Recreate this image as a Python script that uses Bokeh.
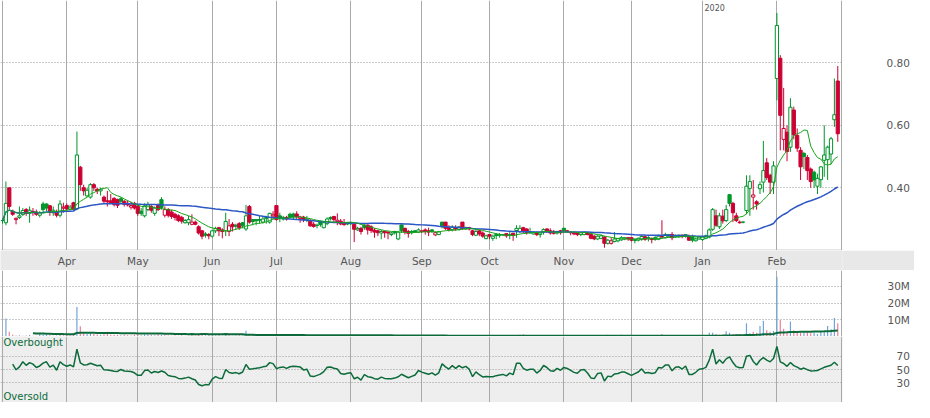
import numpy as np
import pandas as pd
from bokeh.plotting import figure
from bokeh.layouts import column
from bokeh.models import Range1d, FixedTicker, Grid, ColumnDataSource, Label, Span
from bokeh.embed import file_html
from bokeh.resources import INLINE
from bokeh.core.properties import value

# ---------------- data: daily candles (open, high, low, close) per month ----------------
mar_2019 = [
    (0.295, 0.300, 0.285, 0.295), (0.288, 0.420, 0.280, 0.350), (0.400, 0.400, 0.330, 0.340),
    (0.325, 0.330, 0.310, 0.315), (0.298, 0.305, 0.283, 0.302), (0.305, 0.340, 0.300, 0.310),
    (0.314, 0.335, 0.310, 0.327), (0.330, 0.335, 0.310, 0.318), (0.318, 0.340, 0.288, 0.328),
    (0.322, 0.335, 0.310, 0.324), (0.322, 0.330, 0.310, 0.315), (0.312, 0.325, 0.305, 0.320),
    (0.348, 0.355, 0.320, 0.330), (0.348, 0.350, 0.325, 0.335), (0.342, 0.345, 0.310, 0.321),
    (0.320, 0.340, 0.310, 0.328), (0.324, 0.330, 0.305, 0.312), (0.312, 0.360, 0.305, 0.348),
    (0.335, 0.352, 0.320, 0.338),
]
apr_2019 = [
    (0.343, 0.350, 0.328, 0.332), (0.332, 0.345, 0.328, 0.338), (0.352, 0.355, 0.328, 0.331),
    (0.332, 0.580, 0.328, 0.505), (0.466, 0.470, 0.390, 0.410), (0.400, 0.410, 0.375, 0.390),
    (0.374, 0.400, 0.370, 0.392), (0.370, 0.415, 0.365, 0.410), (0.410, 0.415, 0.390, 0.400),
    (0.395, 0.400, 0.380, 0.390), (0.390, 0.400, 0.375, 0.395), (0.370, 0.375, 0.350, 0.357),
    (0.358, 0.390, 0.340, 0.355), (0.358, 0.380, 0.348, 0.352), (0.366, 0.370, 0.340, 0.346),
    (0.362, 0.365, 0.335, 0.344), (0.365, 0.370, 0.350, 0.357), (0.357, 0.360, 0.340, 0.347),
    (0.350, 0.360, 0.340, 0.345), (0.338, 0.355, 0.330, 0.343), (0.350, 0.355, 0.330, 0.335),
]
may_2019 = [
    (0.340, 0.345, 0.310, 0.318), (0.325, 0.335, 0.310, 0.318), (0.310, 0.350, 0.305, 0.342),
    (0.330, 0.355, 0.325, 0.345), (0.340, 0.345, 0.320, 0.328), (0.318, 0.340, 0.310, 0.335),
    (0.343, 0.350, 0.325, 0.330), (0.362, 0.370, 0.330, 0.337), (0.312, 0.340, 0.305, 0.330),
    (0.330, 0.335, 0.305, 0.312), (0.322, 0.330, 0.300, 0.308), (0.315, 0.320, 0.295, 0.305),
    (0.310, 0.315, 0.290, 0.295), (0.305, 0.310, 0.285, 0.293), (0.288, 0.300, 0.285, 0.295),
    (0.288, 0.310, 0.280, 0.298), (0.283, 0.315, 0.280, 0.290), (0.290, 0.295, 0.280, 0.283),
    (0.275, 0.280, 0.250, 0.255), (0.262, 0.265, 0.235, 0.245), (0.252, 0.258, 0.240, 0.248),
    (0.250, 0.255, 0.235, 0.246),
]
jun_2019 = [
    (0.245, 0.265, 0.240, 0.262), (0.262, 0.275, 0.255, 0.270), (0.272, 0.275, 0.245, 0.262),
    (0.265, 0.270, 0.238, 0.260), (0.262, 0.320, 0.245, 0.292), (0.260, 0.300, 0.245, 0.278),
    (0.283, 0.290, 0.260, 0.275), (0.280, 0.285, 0.265, 0.277), (0.285, 0.290, 0.265, 0.272),
    (0.288, 0.290, 0.270, 0.278), (0.268, 0.345, 0.262, 0.310), (0.340, 0.345, 0.285, 0.290),
    (0.298, 0.300, 0.280, 0.292), (0.298, 0.300, 0.280, 0.294), (0.298, 0.310, 0.285, 0.296),
    (0.290, 0.310, 0.285, 0.300), (0.305, 0.310, 0.285, 0.302), (0.290, 0.320, 0.285, 0.318),
    (0.310, 0.325, 0.300, 0.315),
]
jul_2019 = [
    (0.343, 0.345, 0.295, 0.298), (0.310, 0.320, 0.290, 0.303), (0.300, 0.310, 0.295, 0.305),
    (0.305, 0.310, 0.295, 0.300), (0.315, 0.320, 0.300, 0.306), (0.316, 0.320, 0.300, 0.308),
    (0.316, 0.325, 0.300, 0.307), (0.302, 0.310, 0.288, 0.306), (0.306, 0.310, 0.290, 0.298),
    (0.297, 0.310, 0.290, 0.300), (0.293, 0.300, 0.275, 0.278), (0.283, 0.290, 0.272, 0.276),
    (0.280, 0.285, 0.270, 0.279), (0.290, 0.295, 0.275, 0.282), (0.272, 0.292, 0.270, 0.288),
    (0.285, 0.305, 0.280, 0.300), (0.305, 0.308, 0.295, 0.301), (0.308, 0.310, 0.290, 0.298),
    (0.292, 0.318, 0.280, 0.296), (0.293, 0.300, 0.280, 0.284), (0.285, 0.300, 0.278, 0.282),
    (0.288, 0.290, 0.280, 0.284),
]
aug_2019 = [
    (0.288, 0.290, 0.280, 0.285), (0.283, 0.287, 0.226, 0.267), (0.265, 0.275, 0.262, 0.270),
    (0.270, 0.275, 0.250, 0.260), (0.280, 0.285, 0.265, 0.272), (0.280, 0.283, 0.250, 0.265),
    (0.275, 0.280, 0.255, 0.263), (0.264, 0.270, 0.240, 0.258), (0.262, 0.265, 0.245, 0.256),
    (0.255, 0.265, 0.235, 0.260), (0.260, 0.262, 0.240, 0.256), (0.258, 0.260, 0.235, 0.255),
    (0.250, 0.258, 0.245, 0.255), (0.260, 0.262, 0.250, 0.256), (0.236, 0.262, 0.232, 0.258),
    (0.281, 0.283, 0.255, 0.262), (0.270, 0.272, 0.250, 0.258), (0.260, 0.265, 0.240, 0.254),
    (0.260, 0.265, 0.250, 0.256), (0.262, 0.265, 0.255, 0.258), (0.258, 0.270, 0.255, 0.265),
]
sep_2019 = [
    (0.260, 0.265, 0.255, 0.262), (0.265, 0.270, 0.250, 0.260), (0.262, 0.272, 0.245, 0.258),
    (0.265, 0.268, 0.255, 0.260), (0.249, 0.260, 0.245, 0.256), (0.250, 0.262, 0.248, 0.259),
    (0.290, 0.290, 0.270, 0.275), (0.290, 0.290, 0.265, 0.270), (0.272, 0.280, 0.260, 0.266),
    (0.266, 0.280, 0.260, 0.273), (0.272, 0.280, 0.262, 0.268), (0.267, 0.278, 0.262, 0.274),
    (0.290, 0.290, 0.265, 0.270), (0.268, 0.275, 0.265, 0.273), (0.272, 0.275, 0.263, 0.268),
    (0.262, 0.265, 0.245, 0.250), (0.248, 0.270, 0.245, 0.260), (0.262, 0.265, 0.245, 0.252),
    (0.255, 0.260, 0.240, 0.245), (0.237, 0.250, 0.235, 0.246),
]
oct_2019 = [
    (0.250, 0.252, 0.235, 0.245), (0.238, 0.250, 0.230, 0.245), (0.250, 0.255, 0.235, 0.247),
    (0.250, 0.255, 0.240, 0.248), (0.250, 0.252, 0.245, 0.249), (0.253, 0.255, 0.240, 0.246),
    (0.248, 0.260, 0.235, 0.250), (0.254, 0.256, 0.230, 0.247), (0.263, 0.280, 0.240, 0.270),
    (0.260, 0.280, 0.255, 0.270), (0.272, 0.275, 0.255, 0.260), (0.268, 0.270, 0.250, 0.256),
    (0.258, 0.272, 0.252, 0.258), (0.252, 0.260, 0.250, 0.258), (0.256, 0.260, 0.245, 0.250),
    (0.250, 0.258, 0.240, 0.255), (0.258, 0.270, 0.250, 0.266), (0.268, 0.270, 0.255, 0.262),
    (0.262, 0.270, 0.250, 0.255), (0.260, 0.265, 0.250, 0.254), (0.255, 0.262, 0.250, 0.260),
    (0.262, 0.265, 0.250, 0.256),
]
nov_2019 = [
    (0.270, 0.272, 0.258, 0.262), (0.262, 0.265, 0.255, 0.260), (0.258, 0.260, 0.248, 0.256),
    (0.256, 0.258, 0.248, 0.252), (0.256, 0.258, 0.245, 0.250), (0.250, 0.258, 0.245, 0.256),
    (0.250, 0.260, 0.248, 0.257), (0.256, 0.258, 0.248, 0.250), (0.250, 0.255, 0.235, 0.238),
    (0.245, 0.248, 0.232, 0.236), (0.236, 0.248, 0.232, 0.245), (0.238, 0.250, 0.235, 0.246),
    (0.242, 0.245, 0.208, 0.222), (0.222, 0.236, 0.218, 0.232), (0.222, 0.240, 0.218, 0.230),
    (0.228, 0.258, 0.225, 0.236), (0.230, 0.240, 0.225, 0.237), (0.233, 0.245, 0.230, 0.240),
    (0.236, 0.242, 0.232, 0.240), (0.240, 0.242, 0.230, 0.236),
]
dec_2019 = [
    (0.240, 0.242, 0.228, 0.232), (0.231, 0.238, 0.222, 0.235), (0.232, 0.240, 0.228, 0.238),
    (0.235, 0.248, 0.230, 0.244), (0.243, 0.248, 0.230, 0.235), (0.240, 0.245, 0.228, 0.236),
    (0.238, 0.240, 0.222, 0.234), (0.240, 0.245, 0.230, 0.235), (0.235, 0.250, 0.232, 0.245),
    (0.242, 0.296, 0.238, 0.244), (0.240, 0.256, 0.238, 0.250), (0.243, 0.252, 0.240, 0.250),
    (0.250, 0.258, 0.232, 0.240), (0.243, 0.250, 0.240, 0.247), (0.243, 0.250, 0.240, 0.248),
    (0.248, 0.250, 0.238, 0.244), (0.244, 0.252, 0.240, 0.250), (0.243, 0.250, 0.230, 0.232),
    (0.242, 0.250, 0.225, 0.232), (0.230, 0.240, 0.228, 0.236), (0.236, 0.245, 0.233, 0.242),
]
jan_2020 = [
    (0.234, 0.245, 0.230, 0.243), (0.238, 0.250, 0.235, 0.246), (0.242, 0.270, 0.238, 0.265),
    (0.267, 0.335, 0.262, 0.330), (0.310, 0.330, 0.275, 0.280), (0.275, 0.320, 0.268, 0.310),
    (0.309, 0.330, 0.285, 0.294), (0.295, 0.345, 0.290, 0.330), (0.378, 0.380, 0.340, 0.350),
    (0.350, 0.355, 0.290, 0.320), (0.310, 0.320, 0.290, 0.295), (0.290, 0.295, 0.285, 0.288),
    (0.290, 0.292, 0.286, 0.290), (0.327, 0.440, 0.315, 0.405), (0.398, 0.440, 0.310, 0.420),
    (0.370, 0.425, 0.330, 0.377), (0.355, 0.360, 0.330, 0.348), (0.397, 0.420, 0.380, 0.410),
    (0.418, 0.550, 0.385, 0.455), (0.480, 0.495, 0.425, 0.433), (0.440, 0.445, 0.380, 0.418),
    (0.418, 0.485, 0.380, 0.470),
]
feb_2020 = [
    (0.750, 0.960, 0.680, 0.920), (0.815, 0.825, 0.520, 0.632), (0.555, 0.720, 0.520, 0.590),
    (0.578, 0.600, 0.485, 0.516), (0.530, 0.687, 0.515, 0.658), (0.649, 0.660, 0.555, 0.570),
    (0.568, 0.590, 0.515, 0.527), (0.520, 0.530, 0.425, 0.467), (0.510, 0.515, 0.460, 0.500),
    (0.497, 0.505, 0.425, 0.455), (0.460, 0.465, 0.400, 0.420), (0.450, 0.455, 0.400, 0.425),
    (0.405, 0.445, 0.380, 0.430), (0.426, 0.470, 0.400, 0.467), (0.488, 0.600, 0.435, 0.505),
    (0.490, 0.535, 0.425, 0.530), (0.508, 0.563, 0.475, 0.557), (0.618, 0.750, 0.595, 0.634),
    (0.742, 0.790, 0.547, 0.573),
]

# daily volume, millions of shares
vol_mar_2019 = [0.8, 10.8, 2.8, 1.0, 0.6, 0.8, 0.5, 0.6, 0.9, 0.5, 0.4, 1.6, 1.2, 0.9, 0.7, 0.5, 0.6, 1.4, 0.8]
vol_apr_2019 = [1.0, 0.8, 1.2, 17.6, 6.2, 2.0, 1.5, 2.2, 1.5, 1.2, 1.0, 1.3, 2.8, 1.0, 1.1, 1.0, 0.8, 1.0, 0.7, 0.6, 1.0]
vol_may_2019 = [1.0, 0.8, 1.2, 1.0, 0.9, 0.7, 1.5, 1.0, 0.8, 0.6, 0.5, 0.6, 0.5, 0.7, 0.4, 0.5, 0.8, 0.5, 0.9, 1.0, 0.7, 0.8]
vol_jun_2019 = [0.8, 0.6, 0.7, 0.5, 1.9, 0.8, 0.5, 0.6, 0.7, 0.6, 3.4, 1.0, 1.0, 0.6, 0.5, 0.8, 0.6, 0.9, 1.2]
vol_jul_2019 = [1.2, 0.8, 0.5, 0.4, 0.8, 0.6, 0.7, 0.5, 0.6, 0.4, 0.7, 0.5, 0.4, 0.6, 0.8, 0.9, 0.6, 0.7, 0.5, 0.6, 0.5, 0.4]
vol_aug_2019 = [0.5, 1.2, 0.4, 0.5, 0.4, 0.6, 0.5, 0.4, 0.3, 0.4, 0.3, 0.3, 0.3, 0.5, 0.6, 0.4, 1.0, 0.3, 0.4, 0.3, 0.4]
vol_sep_2019 = [0.3, 0.3, 0.4, 0.3, 0.4, 0.3, 1.0, 0.8, 0.4, 0.3, 0.3, 0.4, 0.9, 0.3, 0.4, 0.3, 0.3, 0.4, 0.3, 0.4]
vol_oct_2019 = [0.3, 0.3, 0.3, 0.3, 0.2, 0.3, 0.3, 0.4, 0.9, 1.0, 1.4, 0.4, 0.3, 0.3, 0.3, 0.3, 0.4, 0.3, 0.3, 0.3, 0.3, 0.3]
vol_nov_2019 = [0.4, 0.3, 0.3, 0.3, 0.3, 0.3, 0.3, 0.3, 0.5, 0.4, 0.3, 0.3, 0.6, 1.0, 0.3, 0.3, 0.4, 1.0, 0.3, 0.3]
vol_dec_2019 = [0.3, 0.3, 0.3, 0.4, 0.3, 0.3, 0.3, 0.3, 0.4, 1.5, 0.4, 0.3, 0.3, 0.3, 0.3, 0.3, 0.3, 0.4, 0.3, 0.3, 0.4]
vol_jan_2020 = [0.8, 0.9, 2.3, 2.3, 1.5, 1.0, 1.2, 3.2, 2.3, 1.5, 1.5, 1.5, 0.8, 8.0, 2.0, 2.8, 2.2, 6.3, 9.5, 3.8, 2.8, 3.3]
vol_feb_2020 = [35.6, 9.9, 4.7, 2.8, 9.0, 3.8, 2.8, 2.3, 2.2, 2.5, 2.0, 2.3, 1.5, 2.8, 2.8, 6.3, 4.3, 11.0, 8.0]

month_labels = ["Apr", "May", "Jun", "Jul", "Aug", "Sep", "Oct", "Nov", "Dec", "Jan", "Feb"]
year_label = "2020"
price_ticks = [0.40, 0.60, 0.80]
price_tick_labels = ["0.40", "0.60", "0.80"]
vol_ticks = [10, 20, 30]
vol_tick_labels = ["10M", "20M", "30M"]
rsi_ticks = [30, 50, 70]
rsi_tick_labels = ["30", "50", "70"]
sma_short, sma_long, rsi_period = 10, 50, 14

# ---------------- assemble ----------------
months = [mar_2019, apr_2019, may_2019, jun_2019, jul_2019, aug_2019,
          sep_2019, oct_2019, nov_2019, dec_2019, jan_2020, feb_2020]
vols = [vol_mar_2019, vol_apr_2019, vol_may_2019, vol_jun_2019, vol_jul_2019, vol_aug_2019,
        vol_sep_2019, vol_oct_2019, vol_nov_2019, vol_dec_2019, vol_jan_2020, vol_feb_2020]
rows = [r for m in months for r in m]
o, h, l, c = (np.array(a) for a in zip(*rows))
volume = np.array([v for m in vols for v in m])
idx = np.arange(len(c))
month_starts = np.cumsum([0] + [len(m) for m in months])[:-1]

prev_c = np.r_[c[0], c[:-1]]
up = c >= prev_c
GREEN, RED = "#00962a", "#cc0033"
col = np.where(up, GREEN, RED)
fill = np.where(c > o, "white", col)
vcol = np.where(up, "#6fa4d8", "#ee7c98")

cs = pd.Series(c)
ma_s = cs.rolling(sma_short, min_periods=1).mean()
ma_l = cs.rolling(sma_long, min_periods=1).mean()
vol_ma = pd.Series(volume).rolling(sma_long, min_periods=10).mean()
d = cs.diff()
ag = d.clip(lower=0).ewm(alpha=1 / rsi_period, adjust=True, min_periods=3).mean()
al = (-d.clip(upper=0)).ewm(alpha=1 / rsi_period, adjust=True, min_periods=3).mean()
rsi = 100 * ag / (ag + al)

x_edge = float(idx[-1] + 1.1)
xr = Range1d(float(idx[0]) - 0.6, x_edge + 0.3)
grid_ticks = [float(v) for v in month_starts] + [x_edge]

W, RB = 914, 72
FONT = "DejaVu Sans"
LABEL_COL = "#555555"


def base(height, y_range, yloc="right", **kw):
    f = figure(width=W, height=height, x_range=xr, y_range=y_range, output_backend="svg",
               toolbar_location=None, x_axis_location=None, y_axis_location=yloc,
               min_border_left=0, min_border_right=RB, min_border_top=0, min_border_bottom=0,
               outline_line_color=None, **kw)
    f.grid.grid_line_color = None
    return f


def style_axis(f, ticks, labels, standoff):
    ax = f.yaxis[0]
    ax.ticker = FixedTicker(ticks=ticks)
    ax.major_label_overrides = dict(zip(ticks, labels))
    ax.axis_line_color = None
    ax.major_tick_line_color = None
    ax.minor_tick_line_color = None
    ax.major_tick_out = 0
    ax.major_tick_in = 0
    ax.major_label_standoff = standoff
    ax.major_label_text_font = FONT
    ax.major_label_text_font_size = "10.5px"
    ax.major_label_text_color = LABEL_COL


def add_grids(f, yticks):
    f.add_layout(Grid(dimension=0, ticker=FixedTicker(ticks=grid_ticks),
                      grid_line_color="#aaaaaa", grid_line_width=1))
    f.add_layout(Grid(dimension=1, ticker=FixedTicker(ticks=yticks),
                      grid_line_color="#999999", grid_line_dash="1 2", grid_line_width=1))


# ---- price panel ----
p = base(250, Range1d(0.199, 1.0))
add_grids(p, price_ticks)
style_axis(p, price_ticks, price_tick_labels, 44)
p.add_layout(Span(location=0.2, dimension="width", line_color="#aaaaaa", line_width=1))
src = ColumnDataSource(dict(x=idx, top=np.maximum(o, c), bottom=np.minimum(o, c),
                            high=h, low=l, col=col, fill=fill))
p.segment(x0="x", y0="low", x1="x", y1="high", line_color="col", line_width=1, source=src)
p.vbar(x="x", width=0.95, top="top", bottom="bottom", fill_color="fill",
       line_color="col", line_width=1, source=src)
p.line(idx, ma_l, line_color="#2a56c6", line_width=1.5)
p.line(idx, ma_s, line_color="#1aa31a", line_width=1)
p.add_layout(Label(x=float(month_starts[10]), y=0.99, text=year_label, x_offset=2,
                   text_baseline="top", text_font=FONT, text_font_size="8px",
                   text_color=LABEL_COL))

# ---- month band ----
band = base(20, Range1d(0, 1), yloc=None, background_fill_color="#e8e8e8",
            border_fill_color="#e8e8e8")
band.text(x=[float(v) for v in month_starts[1:]], y=[0.5] * len(month_labels), text=month_labels,
          text_align="center", text_baseline="middle", text_font=value(FONT),
          text_font_size="10.5px", text_color=LABEL_COL)

# ---- volume panel ----
v = base(66, Range1d(0, 39.5))
add_grids(v, vol_ticks)
style_axis(v, vol_ticks, vol_tick_labels, 45)
v.vbar(x=idx, top=volume, width=0.35, fill_color=vcol, line_color=None)
v.line(idx, vol_ma, line_color="#0d6b3b", line_width=2)

# ---- RSI panel ----
r = base(66, Range1d(0, 100), background_fill_color="#eeeeee")
add_grids(r, rsi_ticks)
style_axis(r, rsi_ticks, rsi_tick_labels, 54)
r.line(idx, rsi, line_color="#0b6b3a", line_width=1.5)
r.add_layout(Label(x=xr.start, y=99, text="Overbought", x_offset=3, text_baseline="top",
                   text_font=FONT, text_font_size="10px", text_color="#0b6b3a"))
r.add_layout(Label(x=xr.start, y=1, text="Oversold", x_offset=3, text_baseline="bottom",
                   text_font=FONT, text_font_size="10px", text_color="#0b6b3a"))

layout = column(p, band, v, r, spacing=0)
open("out.html", "w").write(file_html(layout, INLINE))
